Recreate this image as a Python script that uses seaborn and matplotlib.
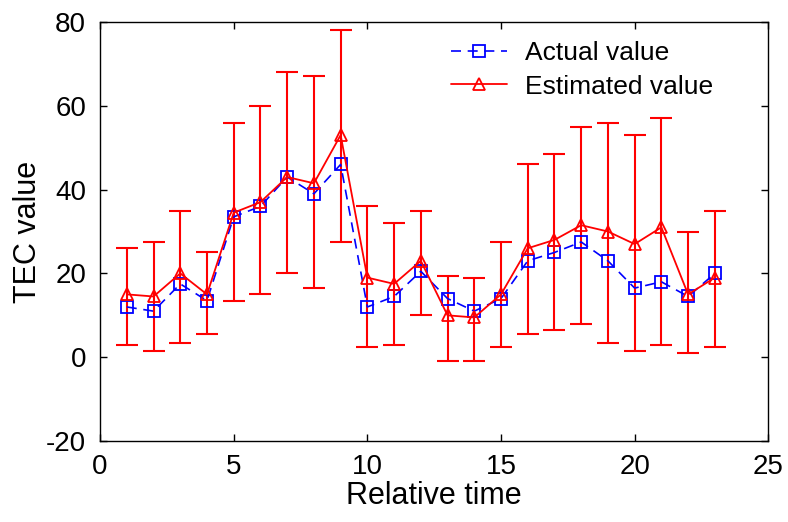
import numpy as np
import pandas as pd
import matplotlib
matplotlib.use("Agg")
import matplotlib.pyplot as plt
import seaborn as sns

# data
time = list(range(1, 24))
actual = [12, 11, 17.5, 13.5, 33.5, 36, 43, 39, 46, 12, 14.5, 20.5, 14,
          11, 14, 23, 25, 27.5, 23, 16.5, 18, 14.5, 20]
estimated = [15, 14.5, 20, 15, 34.5, 37, 43, 41.5, 53, 19, 17.5, 23, 10,
             9.5, 15, 26, 28, 31.5, 30, 27, 31, 15, 19]
err_top = [26, 27.5, 35, 25, 56, 60, 68, 67, 78, 36, 32, 35, 19.5,
           19, 27.5, 46, 48.5, 55, 56, 53, 57, 30, 35]
err_bottom = [3, 1.5, 3.5, 5.5, 13.5, 15, 20, 16.5, 27.5, 2.5, 3, 10, -1,
              -1, 2.5, 5.5, 6.5, 8, 3.5, 1.5, 3, 1, 2.5]

df = pd.DataFrame({"time": time, "actual": actual, "estimated": estimated})

sns.set_style("ticks")
plt.rcParams['font.family'] = ['Liberation Sans', 'DejaVu Sans']
plt.rcParams['axes.unicode_minus'] = False
plt.rcParams['text.color'] = 'black'
plt.rcParams['axes.labelcolor'] = 'black'
plt.rcParams['xtick.color'] = 'black'
plt.rcParams['ytick.color'] = 'black'

fig = plt.figure(figsize=(7.88, 5.22), dpi=100)
ax = fig.add_axes([0.127, 0.155, 0.848, 0.803])

yerr = [np.array(estimated) - np.array(err_bottom),
        np.array(err_top) - np.array(estimated)]
ax.errorbar(time, estimated, yerr=yerr, fmt='none', ecolor='red',
            elinewidth=1.5, capsize=8, capthick=1.5, zorder=2)

sns.lineplot(data=df, x="time", y="actual", ax=ax, color='blue',
             linestyle='--', dashes=False, linewidth=1.2, marker='s',
             markersize=8, markerfacecolor='none', markeredgecolor='blue',
             markeredgewidth=1.3, label='Actual value', zorder=3)
ax.lines[-1].set_dashes([6, 4])
sns.lineplot(data=df, x="time", y="estimated", ax=ax, color='red',
             linewidth=1.3, marker='^', markersize=9,
             markerfacecolor='none', markeredgecolor='red',
             markeredgewidth=1.3, label='Estimated value', zorder=4)

ax.set_xlim(0, 25)
ax.set_ylim(-20, 80)
ax.set_xticks([0, 5, 10, 15, 20, 25])
ax.set_yticks([-20, 0, 20, 40, 60, 80])
ax.tick_params(direction='in', top=True, right=True, labelsize=20,
               length=5, width=1)
ax.tick_params(axis='x', pad=9)
ax.tick_params(axis='y', pad=10)
for s in ax.spines.values():
    s.set_linewidth(1.0)
    s.set_color('black')
ax.set_xlabel('Relative time', fontsize=22, labelpad=1)
ax.set_ylabel('TEC value', fontsize=22, labelpad=2)

ax.legend(loc='upper left', bbox_to_anchor=(0.49, 1.01), frameon=False,
          fontsize=19, handlelength=2.1, handletextpad=0.7,
          labelspacing=0.35)

fig.savefig('out.png', dpi=100)
